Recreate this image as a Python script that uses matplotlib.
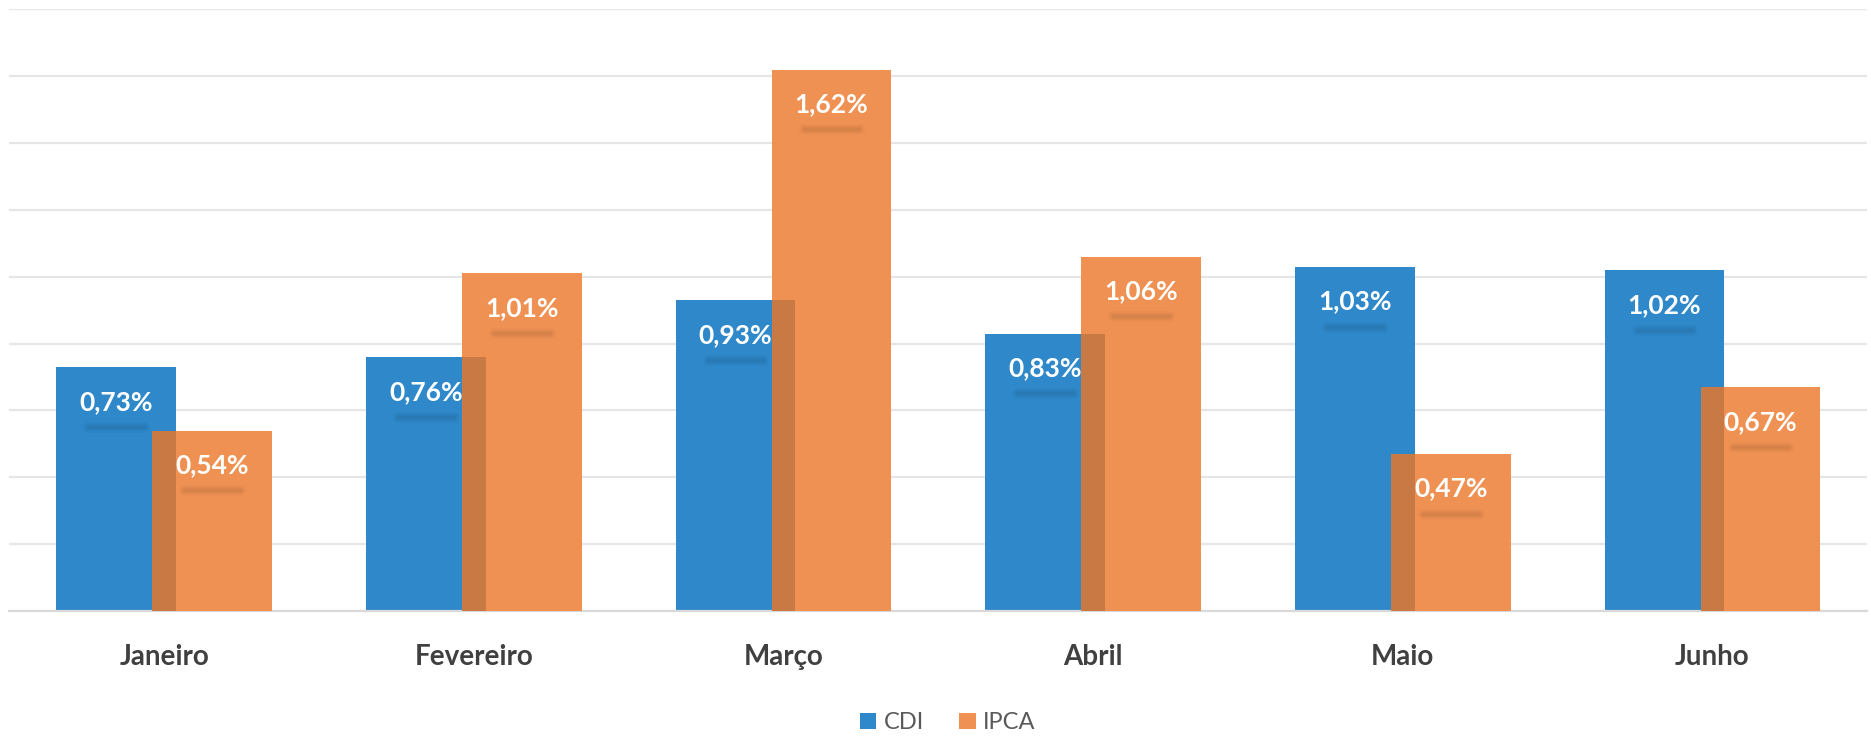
import matplotlib
matplotlib.use('Agg')
import matplotlib.pyplot as plt
import matplotlib.transforms as mtransforms
from matplotlib.patches import Rectangle
import numpy as np

months = ['Janeiro', 'Fevereiro', 'Março', 'Abril', 'Maio', 'Junho']
cdi = [0.73, 0.76, 0.93, 0.83, 1.03, 1.02]
ipca = [0.54, 1.01, 1.62, 1.06, 0.47, 0.67]

BLUE = '#2E88C9'
ORANGE = '#EF9152'
plt.rcParams['font.family'] = ['Lato', 'DejaVu Sans']

fig = plt.figure(figsize=(18.71, 7.42), dpi=100)
ax = fig.add_axes([0.005, 0.1766, 0.993, 0.8106])

x = np.arange(len(months))
w = 0.386
off = 0.155

ax.bar(x - off, cdi, w, color=BLUE, zorder=2, label='CDI')
ax.bar(x + off, ipca, w, color=ORANGE, zorder=3, label='IPCA')

# shadow where the orange bar covers the blue one
for xi, c, p in zip(x, cdi, ipca):
    left = xi + off - w / 2
    right = xi - off + w / 2
    ax.add_patch(Rectangle((left, 0), right - left, min(c, p),
                           facecolor='black', alpha=0.16, lw=0, zorder=4))

# value labels with a soft shadow underneath
shadow_tr = mtransforms.offset_copy(ax.transData, fig=fig, x=0, y=-43, units='points')
for series, dx in ((cdi, -off), (ipca, off)):
    for xi, v in zip(x, series):
        ax.annotate(f'{v:.2f}%'.replace('.', ','), (xi + dx, v),
                    xytext=(0, -25), textcoords='offset points',
                    ha='center', va='center', color='white',
                    fontsize=19, fontweight='bold', zorder=6)
        for lw, a in ((8, 0.025), (5, 0.035), (2.5, 0.045)):
            ax.plot([xi + dx - 0.09, xi + dx + 0.09], [v, v], color='black',
                    lw=lw, alpha=a, solid_capstyle='round',
                    transform=shadow_tr, zorder=5)

ax.set_xlim(-0.5, 5.5)
ax.set_ylim(0, 1.8)
ax.set_yticks(np.arange(0, 1.81, 0.2))
ax.yaxis.grid(True, color='#E6E6E6', lw=1.6, zorder=0)
ax.set_axisbelow(True)
ax.tick_params(axis='y', left=False, labelleft=False)
ax.tick_params(axis='x', bottom=False, pad=20)
ax.set_xticks(x)
ax.set_xticklabels(months, fontsize=20, fontweight='bold', color='#404040')
for s in ('top', 'right', 'left'):
    ax.spines[s].set_visible(False)
ax.spines['bottom'].set_color('#D9D9D9')
ax.spines['bottom'].set_linewidth(1.6)

ax.legend(loc='center', bbox_to_anchor=(0.505, -0.186), ncol=2,
          frameon=False, fontsize=17, handlelength=0.7, handleheight=0.7,
          handletextpad=0.3, columnspacing=1.5, labelcolor='#595959')

fig.savefig('out.png', dpi=100)
